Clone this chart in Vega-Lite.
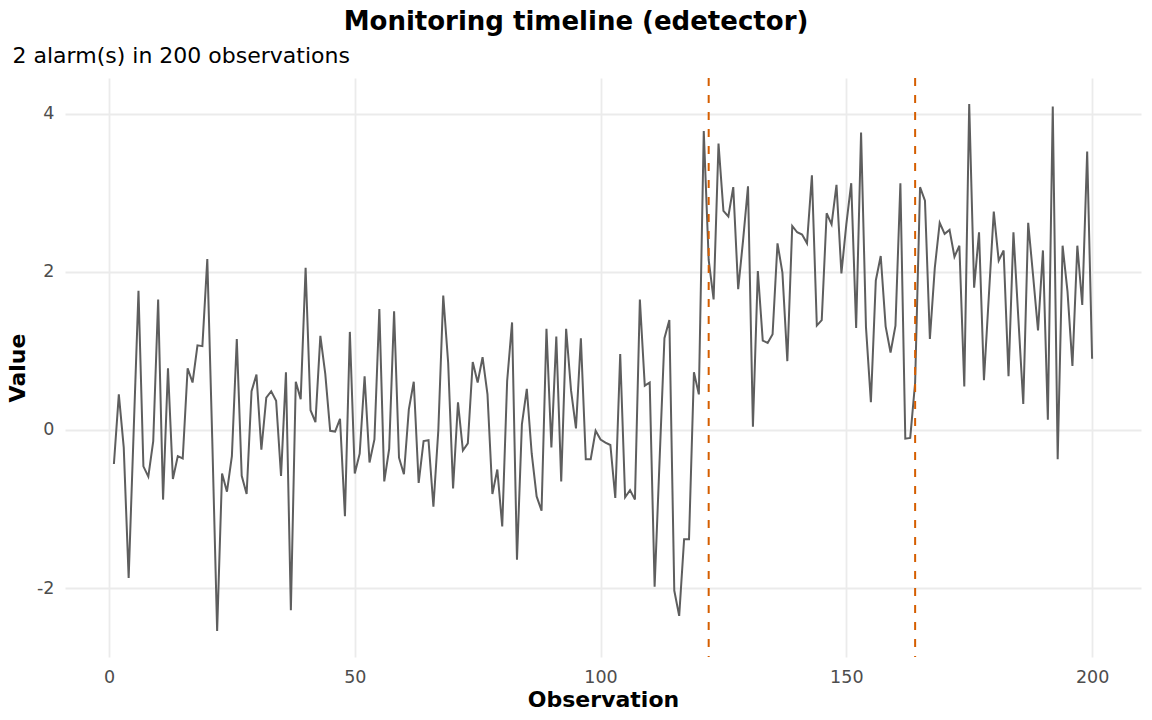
{
  "$schema": "https://vega.github.io/schema/vega-lite/v6.json",
  "autosize": "none",
  "width": 1076,
  "height": 579,
  "padding": {"left": 65, "top": 78, "right": 11, "bottom": 63},
  "background": "white",
  "title": {
    "text": "Monitoring timeline (edetector)",
    "anchor": "middle",
    "frame": "group",
    "dx": -27,
    "fontSize": 26,
    "fontWeight": "bold",
    "font": "DejaVu Sans",
    "color": "black",
    "offset": 9
  },
  "datasets": {
    "series": [
      {"t": 1, "v": -0.43}, {"t": 2, "v": 0.45}, {"t": 3, "v": -0.22}, {"t": 4, "v": -1.87}, {"t": 5, "v": -0.05},
      {"t": 6, "v": 1.76}, {"t": 7, "v": -0.46}, {"t": 8, "v": -0.59}, {"t": 9, "v": -0.14}, {"t": 10, "v": 1.65},
      {"t": 11, "v": -0.88}, {"t": 12, "v": 0.78}, {"t": 13, "v": -0.62}, {"t": 14, "v": -0.33}, {"t": 15, "v": -0.36},
      {"t": 16, "v": 0.78}, {"t": 17, "v": 0.6}, {"t": 18, "v": 1.07}, {"t": 19, "v": 1.06}, {"t": 20, "v": 2.16},
      {"t": 21, "v": -0.1}, {"t": 22, "v": -2.54}, {"t": 23, "v": -0.55}, {"t": 24, "v": -0.78}, {"t": 25, "v": -0.33},
      {"t": 26, "v": 1.15}, {"t": 27, "v": -0.58}, {"t": 28, "v": -0.81}, {"t": 29, "v": 0.49}, {"t": 30, "v": 0.7},
      {"t": 31, "v": -0.25}, {"t": 32, "v": 0.41}, {"t": 33, "v": 0.49}, {"t": 34, "v": 0.37}, {"t": 35, "v": -0.58},
      {"t": 36, "v": 0.73}, {"t": 37, "v": -2.28}, {"t": 38, "v": 0.61}, {"t": 39, "v": 0.39}, {"t": 40, "v": 2.05},
      {"t": 41, "v": 0.25}, {"t": 42, "v": 0.1}, {"t": 43, "v": 1.19}, {"t": 44, "v": 0.71}, {"t": 45, "v": -0.01},
      {"t": 46, "v": -0.02}, {"t": 47, "v": 0.14}, {"t": 48, "v": -1.09}, {"t": 49, "v": 1.24}, {"t": 50, "v": -0.55},
      {"t": 51, "v": -0.3}, {"t": 52, "v": 0.68}, {"t": 53, "v": -0.41}, {"t": 54, "v": -0.12}, {"t": 55, "v": 1.53},
      {"t": 56, "v": -0.65}, {"t": 57, "v": -0.24}, {"t": 58, "v": 1.5}, {"t": 59, "v": -0.35}, {"t": 60, "v": -0.56},
      {"t": 61, "v": 0.26}, {"t": 62, "v": 0.61}, {"t": 63, "v": -0.67}, {"t": 64, "v": -0.14}, {"t": 65, "v": -0.13},
      {"t": 66, "v": -0.97}, {"t": 67, "v": 0.0}, {"t": 68, "v": 1.7}, {"t": 69, "v": 0.85}, {"t": 70, "v": -0.74},
      {"t": 71, "v": 0.35}, {"t": 72, "v": -0.26}, {"t": 73, "v": -0.17}, {"t": 74, "v": 0.86}, {"t": 75, "v": 0.6},
      {"t": 76, "v": 0.92}, {"t": 77, "v": 0.45}, {"t": 78, "v": -0.81}, {"t": 79, "v": -0.5}, {"t": 80, "v": -1.22},
      {"t": 81, "v": 0.62}, {"t": 82, "v": 1.36}, {"t": 83, "v": -1.64}, {"t": 84, "v": 0.07}, {"t": 85, "v": 0.52},
      {"t": 86, "v": -0.3}, {"t": 87, "v": -0.84}, {"t": 88, "v": -1.02}, {"t": 89, "v": 1.28}, {"t": 90, "v": -0.22},
      {"t": 91, "v": 1.18}, {"t": 92, "v": -0.65}, {"t": 93, "v": 1.28}, {"t": 94, "v": 0.5}, {"t": 95, "v": 0.02},
      {"t": 96, "v": 1.16}, {"t": 97, "v": -0.37}, {"t": 98, "v": -0.37}, {"t": 99, "v": -0.01}, {"t": 100, "v": -0.12},
      {"t": 101, "v": -0.16}, {"t": 102, "v": -0.19}, {"t": 103, "v": -0.86}, {"t": 104, "v": 0.96}, {"t": 105, "v": -0.85},
      {"t": 106, "v": -0.76}, {"t": 107, "v": -0.88}, {"t": 108, "v": 1.65}, {"t": 109, "v": 0.56}, {"t": 110, "v": 0.6},
      {"t": 111, "v": -1.98}, {"t": 112, "v": -0.4}, {"t": 113, "v": 1.16}, {"t": 114, "v": 1.39}, {"t": 115, "v": -2.03},
      {"t": 116, "v": -2.35}, {"t": 117, "v": -1.38}, {"t": 118, "v": -1.38}, {"t": 119, "v": 0.73}, {"t": 120, "v": 0.45},
      {"t": 121, "v": 3.78}, {"t": 122, "v": 2.15}, {"t": 123, "v": 1.65}, {"t": 124, "v": 3.62}, {"t": 125, "v": 2.77},
      {"t": 126, "v": 2.7}, {"t": 127, "v": 3.07}, {"t": 128, "v": 1.78}, {"t": 129, "v": 2.4}, {"t": 130, "v": 3.08},
      {"t": 131, "v": 0.04}, {"t": 132, "v": 2.01}, {"t": 133, "v": 1.13}, {"t": 134, "v": 1.1}, {"t": 135, "v": 1.21},
      {"t": 136, "v": 2.36}, {"t": 137, "v": 1.99}, {"t": 138, "v": 0.87}, {"t": 139, "v": 2.58}, {"t": 140, "v": 2.5},
      {"t": 141, "v": 2.47}, {"t": 142, "v": 2.36}, {"t": 143, "v": 3.22}, {"t": 144, "v": 1.32}, {"t": 145, "v": 1.39},
      {"t": 146, "v": 2.74}, {"t": 147, "v": 2.6}, {"t": 148, "v": 3.1}, {"t": 149, "v": 1.98}, {"t": 150, "v": 2.6},
      {"t": 151, "v": 3.12}, {"t": 152, "v": 1.29}, {"t": 153, "v": 3.76}, {"t": 154, "v": 1.3}, {"t": 155, "v": 0.35},
      {"t": 156, "v": 1.89}, {"t": 157, "v": 2.2}, {"t": 158, "v": 1.31}, {"t": 159, "v": 0.98}, {"t": 160, "v": 1.32},
      {"t": 161, "v": 3.12}, {"t": 162, "v": -0.11}, {"t": 163, "v": -0.1}, {"t": 164, "v": 0.6}, {"t": 165, "v": 3.07},
      {"t": 166, "v": 2.9}, {"t": 167, "v": 1.15}, {"t": 168, "v": 2.05}, {"t": 169, "v": 2.62}, {"t": 170, "v": 2.48},
      {"t": 171, "v": 2.53}, {"t": 172, "v": 2.19}, {"t": 173, "v": 2.33}, {"t": 174, "v": 0.55}, {"t": 175, "v": 4.12},
      {"t": 176, "v": 1.8}, {"t": 177, "v": 2.5}, {"t": 178, "v": 0.63}, {"t": 179, "v": 1.7}, {"t": 180, "v": 2.76},
      {"t": 181, "v": 2.14}, {"t": 182, "v": 2.27}, {"t": 183, "v": 0.68}, {"t": 184, "v": 2.5}, {"t": 185, "v": 1.41},
      {"t": 186, "v": 0.33}, {"t": 187, "v": 2.62}, {"t": 188, "v": 1.95}, {"t": 189, "v": 1.26}, {"t": 190, "v": 2.27},
      {"t": 191, "v": 0.13}, {"t": 192, "v": 4.09}, {"t": 193, "v": -0.37}, {"t": 194, "v": 2.33}, {"t": 195, "v": 1.75},
      {"t": 196, "v": 0.81}, {"t": 197, "v": 2.33}, {"t": 198, "v": 1.58}, {"t": 199, "v": 3.52}, {"t": 200, "v": 0.9}
    ],
    "alarms": [{"t": 122}, {"t": 164}]
  },
  "layer": [
    {
      "data": {"name": "series"},
      "mark": {"type": "line", "color": "#5e5e5e", "strokeWidth": 2},
      "encoding": {
        "x": {
          "field": "t",
          "type": "quantitative",
          "title": "Observation",
          "scale": {"domain": [-8.95, 209.95], "nice": false, "zero": false},
          "axis": {"values": [0, 50, 100, 150, 200]}
        },
        "y": {
          "field": "v",
          "type": "quantitative",
          "title": "Value",
          "scale": {"domain": [-2.87, 4.45], "nice": false, "zero": false},
          "axis": {"values": [-2, 0, 2, 4], "labelExpr": "'' + datum.value"}
        }
      }
    },
    {
      "data": {"name": "alarms"},
      "mark": {"type": "rule", "color": "#d55e00", "strokeWidth": 2, "strokeDash": [8, 9]},
      "encoding": {
        "x": {
          "field": "t",
          "type": "quantitative",
          "axis": {
            "orient": "top",
            "labels": false,
            "grid": false,
            "domain": false,
            "ticks": false,
            "title": "2 alarm(s) in 200 observations",
            "titleAnchor": "start",
            "titleAlign": "left",
            "titleBaseline": "alphabetic",
            "titleX": -53,
            "titleY": -16,
            "titleFontSize": 22,
            "titleFontWeight": "normal",
            "titleColor": "black"
          }
        }
      }
    }
  ],
  "resolve": {"axis": {"x": "independent"}},
  "config": {
    "font": "DejaVu Sans",
    "view": {"stroke": null},
    "axis": {
      "domain": false,
      "ticks": false,
      "grid": true,
      "gridColor": "#ebebeb",
      "gridWidth": 1.8,
      "labelColor": "#4d4d4d",
      "labelFontSize": 17.5,
      "labelPadding": 11,
      "titleFontSize": 22,
      "titleFontWeight": "bold",
      "titleColor": "black"
    },
    "axisX": {"titlePadding": 4},
    "axisY": {"titlePadding": 7}
  }
}
